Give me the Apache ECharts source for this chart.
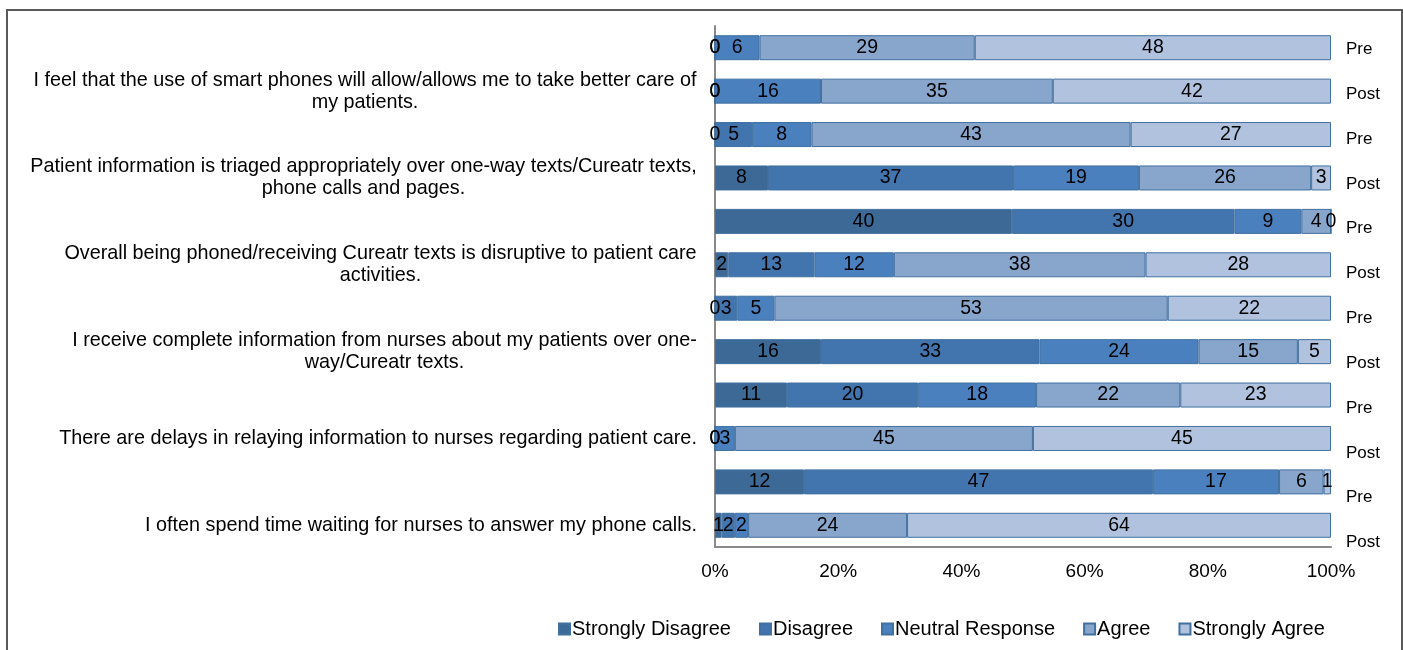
<!DOCTYPE html>
<html>
<head>
<meta charset="utf-8">
<script src="https://cdn.jsdelivr.net/npm/echarts@6/dist/echarts.min.js"></script>
<style>
  html, body { margin: 0; padding: 0; background: #fff; }
  #chart { position: absolute; left: 0; top: 0; width: 1403px; height: 650px; }
  #frame { position: absolute; left: 6px; top: 9px; width: 1393px; height: 700px;
           border: 2px solid #5a5a5a; pointer-events: none; }
</style>
</head>
<body>
<div id="chart"></div>
<div id="frame"></div>
<script>
// Survey statements (each has a Pre and a Post row)
const questions = [
  'I feel that the use of smart phones will allow/allows me to take better care of\nmy patients.',
  'Patient information is triaged appropriately over one-way texts/Cureatr texts,\nphone calls and pages.',
  'Overall being phoned/receiving Cureatr texts is disruptive to patient care\nactivities.',
  'I receive complete information from nurses about my patients over one-\nway/Cureatr texts.',
  'There are delays in relaying information to nurses regarding patient care.',
  'I often spend time waiting for nurses to answer my phone calls.'
];
const rowLabels = ['Pre', 'Post', 'Pre', 'Post', 'Pre', 'Post', 'Pre', 'Post', 'Pre', 'Post', 'Pre', 'Post'];
const responseNames = ['Strongly Disagree', 'Disagree', 'Neutral Response', 'Agree', 'Strongly Agree'];

// Response counts per row (top to bottom)
const stronglyDisagree = [0, 0, 0, 8, 40, 2, 0, 16, 11, 0, 12, 1];
const disagree         = [0, 0, 5, 37, 30, 13, 3, 33, 20, 0, 47, 2];
const neutral          = [6, 16, 8, 19, 9, 12, 5, 24, 18, 3, 17, 2];
const agree            = [29, 35, 43, 26, 4, 38, 53, 15, 22, 45, 6, 24];
const stronglyAgree    = [48, 42, 27, 3, 0, 28, 22, 5, 23, 45, 1, 64];

const xTicks = [0, 20, 40, 60, 80, 100];

const counts = [stronglyDisagree, disagree, neutral, agree, stronglyAgree];
const colors = ['#3d6996', '#4274ad', '#4a80be', '#88a5cc', '#b0c2de'];
const FONT = 'Liberation Sans, Arial, sans-serif';

// Row totals for the 100% stacking
const totals = rowLabels.map((_, i) => counts.reduce((s, arr) => s + arr[i], 0));

// Measure the widest line of each statement so wrapped lines centre under it
const ctx = document.createElement('canvas').getContext('2d');
const CAT_SIZE = 19.8;
ctx.font = CAT_SIZE + 'px ' + FONT;
const rich = {};
questions.forEach((q, k) => {
  const w = Math.max.apply(null, q.split('\n').map(l => ctx.measureText(l).width));
  rich['q' + k] = { width: Math.ceil(w), align: 'center', fontSize: CAT_SIZE,
                    fontFamily: FONT, color: '#000', lineHeight: 22 };
});

const series = responseNames.map((name, s) => ({
  name: name,
  type: 'bar',
  stack: 'total',
  barWidth: 25,
  itemStyle: { color: colors[s], borderColor: '#41709f', borderWidth: 1 },
  label: {
    show: true,
    position: 'inside',
    color: '#000',
    fontSize: 19.5,
    fontFamily: FONT,
    formatter: p => String(counts[s][p.dataIndex])
  },
  emphasis: { disabled: true },
  data: counts[s].map((c, i) => c / totals[i] * 100)
}));

const chart = echarts.init(document.getElementById('chart'), null, { renderer: 'canvas' });
chart.setOption({
  animation: false,
  backgroundColor: '#fff',
  grid: [
    { left: 715, right: 72, top: 26, height: 521 },
    { left: 715, right: 72, top: 27, height: 538 }
  ],
  xAxis: [
    {
      gridIndex: 0, type: 'value', min: 0, max: 100, interval: 20,
      axisLine: { show: true, lineStyle: { color: '#8a8a8a', width: 2 } },
      axisTick: { show: false },
      splitLine: { show: false },
      axisLabel: { margin: 15, fontSize: 19, color: '#000', fontFamily: FONT,
                   formatter: v => xTicks.indexOf(v) >= 0 ? v + '%' : '' }
    },
    { gridIndex: 1, type: 'value', min: 0, max: 100, show: false }
  ],
  yAxis: [
    {
      gridIndex: 0, type: 'category', inverse: true,
      data: rowLabels.map((_, i) => i),
      axisLine: { show: true, lineStyle: { color: '#8a8a8a', width: 2 } },
      axisTick: { show: false },
      axisLabel: {
        margin: 18, interval: 0, fontSize: CAT_SIZE, fontFamily: FONT, color: '#000',
        lineHeight: 22, rich: rich,
        formatter: v => {
          const i = Number(v);
          if (i % 2 === 0) return '';
          const k = (i - 1) / 2;
          return questions[k].split('\n').map(l => '{q' + k + '|' + l + '}').join('\n');
        }
      }
    },
    {
      gridIndex: 1, type: 'category', inverse: true, position: 'right',
      data: rowLabels,
      axisLine: { show: false },
      axisTick: { show: false },
      axisLabel: { margin: 15, interval: 0, fontSize: 17, fontFamily: FONT, color: '#000' }
    }
  ],
  legend: {
    data: responseNames,
    left: 553, top: 614,
    itemWidth: 11, itemHeight: 11, itemGap: 28,
    icon: 'rect',
    textStyle: { fontSize: 20, fontFamily: FONT, color: '#000', padding: [0, 0, 0, -3] },
    selectedMode: false
  },
  series: series
});
</script>
</body>
</html>
